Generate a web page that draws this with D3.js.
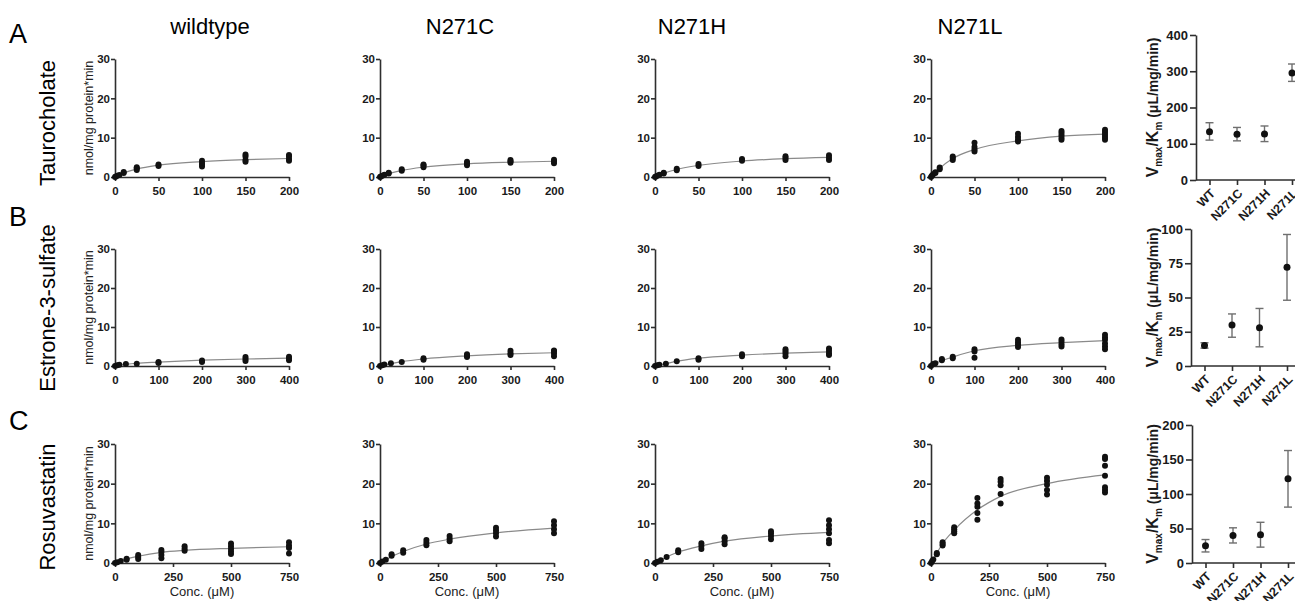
<!DOCTYPE html>
<html>
<head>
<meta charset="utf-8">
<script src="https://cdn.jsdelivr.net/npm/d3@7"></script>
<style>
  body { margin: 0; background: #fff; }
  text { font-family: Arial, 'Liberation Sans', Helvetica, sans-serif; }
</style>
</head>
<body>
<svg id="fig"></svg>
<script>
// --------------------------------------------------------------
// Data

const mutants = ['wildtype', 'N271C', 'N271H', 'N271L']
const substrates = ['Taurocholate', 'Estrone-3-sulfate', 'Rosuvastatin']
const panelLetters = ['A', 'B', 'C']
const concMax = [200, 400, 750]
const concTicks = [
  [0, 50, 100, 150, 200],
  [0, 100, 200, 300, 400],
  [0, 250, 500, 750],
]
const uptakeTicks = [0, 10, 20, 30]

// Taurocholate replicates [conc, uptake]
const tcWildtype = [[0,0],[1,0.1],[2.5,0.3],[5,0.5],[10,1.0],[10,1.3],[25,1.8],[25,2.2],[25,2.5],[50,2.8],[50,3.2],[100,2.7],[100,3.2],[100,3.6],[100,4.1],[150,3.9],[150,4.3],[150,5.2],[150,5.7],[200,4.1],[200,4.6],[200,5.2],[200,5.6]]
const tcN271C = [[0,0],[1,0.1],[2.5,0.3],[5,0.6],[10,0.9],[10,1.1],[25,1.6],[25,2.0],[50,2.5],[50,2.9],[50,3.2],[100,3.0],[100,3.5],[100,3.9],[150,3.6],[150,4.0],[150,4.3],[200,3.5],[200,4.0],[200,4.4]]
const tcN271H = [[0,0],[1,0.1],[2.5,0.3],[5,0.6],[10,0.9],[10,1.1],[25,1.7],[25,2.1],[50,2.8],[50,3.3],[100,4.1],[100,4.6],[150,4.3],[150,4.8],[150,5.3],[200,4.3],[200,4.9],[200,5.5]]
const tcN271L = [[0,0],[1,0.3],[2.5,0.7],[5,1.0],[5,1.2],[10,2.0],[10,2.4],[25,4.3],[25,4.8],[25,5.2],[50,6.5],[50,7.0],[50,7.6],[50,8.7],[100,9.0],[100,9.5],[100,10.2],[100,11.0],[150,9.5],[150,10.0],[150,10.6],[150,11.2],[150,11.7],[200,9.5],[200,10.0],[200,10.5],[200,11.0],[200,11.5],[200,12.0]]

// Estrone-3-sulfate replicates
const esWildtype = [[0,0],[5,0.2],[10,0.3],[25,0.5],[50,0.6],[100,0.8],[100,1.0],[200,1.0],[200,1.4],[300,1.3],[300,1.8],[300,2.3],[400,1.5],[400,2.0],[400,2.4]]
const esN271C = [[0,0],[5,0.2],[10,0.4],[25,0.7],[50,1.0],[100,1.6],[100,2.0],[200,2.3],[200,2.7],[200,3.0],[300,2.8],[300,3.3],[300,3.9],[400,2.5],[400,3.2],[400,3.8],[400,4.0]]
const esN271H = [[0,0],[5,0.2],[10,0.3],[25,0.6],[50,1.2],[100,1.6],[100,2.0],[200,2.5],[200,3.0],[300,2.5],[300,3.2],[300,3.8],[300,4.3],[400,2.8],[400,3.3],[400,3.9],[400,4.5]]
const esN271L = [[0,0],[5,0.5],[10,0.7],[25,1.5],[25,1.8],[50,2.0],[50,2.4],[100,2.1],[100,3.7],[100,4.3],[200,4.9],[200,5.5],[200,6.1],[200,6.7],[300,5.0],[300,5.6],[300,6.2],[300,6.8],[400,4.3],[400,5.0],[400,5.8],[400,6.7],[400,7.3],[400,8.0]]

// Rosuvastatin replicates
const rsWildtype = [[0,0],[10,0.2],[25,0.5],[50,0.8],[50,1.1],[100,1.0],[100,1.5],[100,2.0],[200,1.2],[200,2.0],[200,2.8],[200,3.3],[300,3.1],[300,3.6],[300,4.2],[500,2.3],[500,2.9],[500,3.5],[500,4.2],[500,4.9],[750,2.4],[750,3.8],[750,4.4],[750,5.2]]
const rsN271C = [[0,0],[10,0.4],[25,0.8],[50,1.8],[50,2.2],[100,2.6],[100,3.2],[200,4.5],[200,5.1],[200,5.8],[300,5.5],[300,6.1],[300,6.8],[500,6.7],[500,7.5],[500,8.2],[500,8.9],[750,7.5],[750,8.5],[750,9.5],[750,10.5]]
const rsN271H = [[0,0],[10,0.3],[25,0.7],[50,1.5],[100,2.7],[100,3.2],[200,3.5],[200,4.3],[200,5.0],[300,4.7],[300,5.5],[300,6.2],[300,6.5],[500,6.0],[500,6.8],[500,7.5],[500,8.0],[750,5.0],[750,5.8],[750,7.5],[750,8.5],[750,9.5],[750,10.8]]
const rsN271L = [[0,0],[5,0.5],[10,0.9],[25,2.2],[25,2.5],[50,4.4],[50,4.8],[50,5.2],[100,7.5],[100,8.0],[100,8.5],[100,9.0],[200,10.9],[200,12.6],[200,14.2],[200,15.0],[200,16.4],[300,15.0],[300,17.4],[300,19.6],[300,20.5],[300,21.2],[500,17.3],[500,18.4],[500,19.7],[500,20.7],[500,21.5],[750,17.8],[750,18.4],[750,19.1],[750,22.0],[750,24.5],[750,26.2],[750,26.8]]

// fitted curves
const tcWildtypeFit = [[0,0],[10,1.0],[25,2.0],[50,3.0],[100,3.9],[150,4.4],[200,4.7]]
const tcN271CFit = [[0,0],[10,0.85],[25,1.65],[50,2.5],[100,3.35],[150,3.75],[200,4.0]]
const tcN271HFit = [[0,0],[10,0.93],[25,1.9],[50,2.95],[100,4.05],[150,4.65],[200,5.0]]
const tcN271LFit = [[0,0],[5,1.1],[10,2.2],[25,4.7],[50,7.0],[100,9.2],[150,10.4],[200,10.9]]
const esWildtypeFit = [[0,0],[25,0.4],[50,0.7],[100,1.0],[200,1.5],[300,1.8],[400,2.0]]
const esN271CFit = [[0,0],[25,0.6],[50,1.1],[100,1.8],[200,2.6],[300,3.1],[400,3.4]]
const esN271HFit = [[0,0],[25,0.6],[50,1.2],[100,2.0],[200,2.8],[300,3.3],[400,3.6]]
const esN271LFit = [[0,0],[10,0.6],[25,1.4],[50,2.3],[100,3.9],[200,5.3],[300,6.0],[400,6.5]]
const rsWildtypeFit = [[0,0],[25,0.5],[50,1.0],[100,1.7],[200,2.7],[300,3.2],[500,3.7],[750,4.1]]
const rsN271CFit = [[0,0],[25,0.8],[50,1.6],[100,2.9],[200,4.8],[300,6.0],[500,7.6],[750,8.8]]
const rsN271HFit = [[0,0],[25,0.7],[50,1.5],[100,2.7],[200,4.3],[300,5.5],[500,6.8],[750,7.7]]
const rsN271LFit = [[0,0],[25,2.5],[50,4.9],[100,8.3],[200,13.4],[300,16.8],[500,20.0],[750,22.2]]

const replicates = [
  [tcWildtype, tcN271C, tcN271H, tcN271L],
  [esWildtype, esN271C, esN271H, esN271L],
  [rsWildtype, rsN271C, rsN271H, rsN271L],
]
const fits = [
  [tcWildtypeFit, tcN271CFit, tcN271HFit, tcN271LFit],
  [esWildtypeFit, esN271CFit, esN271HFit, esN271LFit],
  [rsWildtypeFit, rsN271CFit, rsN271HFit, rsN271LFit],
]

// Vmax/Km summary (mean, lower, upper)
const effCategories = ['WT', 'N271C', 'N271H', 'N271L']
const tcEff = [133, 126, 127, 295]
const tcEffLow = [110, 108, 106, 272]
const tcEffHigh = [158, 145, 149, 320]
const esEff = [15, 30, 28, 72]
const esEffLow = [13, 21, 14, 48]
const esEffHigh = [17, 38, 42, 96]
const rsEff = [25, 40, 41, 122]
const rsEffLow = [16, 29, 23, 81]
const rsEffHigh = [34, 51, 59, 163]
const effMax = [400, 100, 200]
const effTicks = [
  [0, 100, 200, 300, 400],
  [0, 25, 50, 75, 100],
  [0, 50, 100, 150, 200],
]

// --------------------------------------------------------------
// Layout

const width = 1295
const height = 601
const colX = [115, 380, 655, 931]
const plotW = 174
const rowTop = [59, 249, 444]
const rowBottom = [177, 366, 563]
const titleX = [210, 460, 692, 970]
const letterBase = [43, 226, 430]
const substrateY = [123, 308, 507]
const effAxisX = [1196, 1191, 1192]
const effTop = [35, 229, 425]
const effBottom = [180, 366, 563]

const axisColor = '#2e2e2e'

const svg = d3.select('#fig').attr('width', width).attr('height', height)

function styleAxis(g, size) {
  g.attr('font-family', "Arial, 'Liberation Sans', sans-serif")
    .attr('font-size', size)
    .attr('font-weight', 'bold')
  g.selectAll('path, line').attr('stroke', axisColor).attr('stroke-width', 1.6)
  g.selectAll('text').attr('fill', '#1a1a1a')
}

// column titles
svg
  .append('g')
  .selectAll('text')
  .data(mutants)
  .join('text')
  .attr('x', (d, i) => titleX[i])
  .attr('y', 34)
  .attr('text-anchor', 'middle')
  .attr('font-size', 22)
  .text((d) => d)

// --------------------------------------------------------------
// Kinetic panels

const fitLine = d3.line().curve(d3.curveMonotoneX)

substrates.forEach((sub, r) => {
  // panel letter + substrate name
  svg
    .append('text')
    .attr('x', 9)
    .attr('y', letterBase[r])
    .attr('font-size', 27)
    .text(panelLetters[r])

  svg
    .append('text')
    .attr('transform', `translate(55,${substrateY[r]}) rotate(-90)`)
    .attr('text-anchor', 'middle')
    .attr('font-size', 22)
    .text(sub)

  const y = d3.scaleLinear().domain([0, 30]).range([rowBottom[r], rowTop[r]])

  mutants.forEach((m, c) => {
    const x = d3
      .scaleLinear()
      .domain([0, concMax[r]])
      .range([colX[c], colX[c] + plotW])

    svg
      .append('g')
      .attr('transform', `translate(0,${rowBottom[r]})`)
      .call(d3.axisBottom(x).tickValues(concTicks[r]).tickSize(4).tickSizeOuter(0).tickPadding(6))
      .call((g) => styleAxis(g, 11.5))

    svg
      .append('g')
      .attr('transform', `translate(${colX[c]},0)`)
      .call(d3.axisLeft(y).tickValues(uptakeTicks).tickSize(4).tickSizeOuter(0).tickPadding(1))
      .call((g) => styleAxis(g, 11.5))

    const lineProj = fitLine.x((d) => x(d[0])).y((d) => y(d[1]))
    svg
      .append('path')
      .attr('d', lineProj(fits[r][c]))
      .attr('fill', 'none')
      .attr('stroke', '#8a8a8a')
      .attr('stroke-width', 1.2)

    svg
      .append('g')
      .selectAll('circle')
      .data(replicates[r][c])
      .join('circle')
      .attr('cx', (d) => x(d[0]))
      .attr('cy', (d) => y(d[1]))
      .attr('r', 3)
      .attr('fill', '#111')

    if (c === 0) {
      svg
        .append('text')
        .attr('transform', `translate(93,${(rowTop[r] + rowBottom[r]) / 2}) rotate(-90)`)
        .attr('text-anchor', 'middle')
        .attr('font-size', 12.5)
        .attr('fill', '#222')
        .text('nmol/mg protein*min')
    }
    if (r === 2) {
      svg
        .append('text')
        .attr('x', colX[c] + plotW / 2)
        .attr('y', 596)
        .attr('text-anchor', 'middle')
        .attr('font-size', 13)
        .attr('fill', '#222')
        .text('Conc. (μM)')
    }
  })
})

// --------------------------------------------------------------
// Vmax/Km panels

const effMeans = [tcEff, esEff, rsEff]
const effLows = [tcEffLow, esEffLow, rsEffLow]
const effHighs = [tcEffHigh, esEffHigh, rsEffHigh]

effMeans.forEach((means, r) => {
  const ax = effAxisX[r]
  const x = d3
    .scalePoint()
    .domain(effCategories)
    .range([ax + 13.5, ax + 13.5 + 3 * 27.5])
  const y = d3.scaleLinear().domain([0, effMax[r]]).range([effBottom[r], effTop[r]])

  svg
    .append('g')
    .attr('transform', `translate(0,${effBottom[r]})`)
    .call(d3.axisBottom(x).tickSize(5).tickSizeOuter(0))
    .call((g) => g.select('.domain').attr('d', `M${ax},0H${width + 10}`))
    .call((g) => styleAxis(g, 12.5))
    .call((g) =>
      g
        .selectAll('.tick text')
        .attr('x', 0)
        .attr('y', 0)
        .attr('dy', 0)
        .attr('text-anchor', 'end')
        .attr('transform', 'translate(6,14) rotate(-45)')
    )

  svg
    .append('g')
    .attr('transform', `translate(${ax},0)`)
    .call(d3.axisLeft(y).tickValues(effTicks[r]).tickSize(6).tickSizeOuter(0).tickPadding(2))
    .call((g) => styleAxis(g, 13))

  const rows = effCategories.map((k, i) => ({
    k: k,
    v: means[i],
    lo: effLows[r][i],
    hi: effHighs[r][i],
  }))

  const bars = svg.append('g').attr('stroke', '#6f6f6f').attr('stroke-width', 1.4)
  bars
    .selectAll('.stem')
    .data(rows)
    .join('line')
    .attr('x1', (d) => x(d.k))
    .attr('x2', (d) => x(d.k))
    .attr('y1', (d) => y(d.lo))
    .attr('y2', (d) => y(d.hi))
  bars
    .selectAll('.capHi')
    .data(rows)
    .join('line')
    .attr('x1', (d) => x(d.k) - 4)
    .attr('x2', (d) => x(d.k) + 4)
    .attr('y1', (d) => y(d.hi))
    .attr('y2', (d) => y(d.hi))
  bars
    .selectAll('.capLo')
    .data(rows)
    .join('line')
    .attr('x1', (d) => x(d.k) - 4)
    .attr('x2', (d) => x(d.k) + 4)
    .attr('y1', (d) => y(d.lo))
    .attr('y2', (d) => y(d.lo))

  svg
    .append('g')
    .selectAll('circle')
    .data(rows)
    .join('circle')
    .attr('cx', (d) => x(d.k))
    .attr('cy', (d) => y(d.v))
    .attr('r', 3.5)
    .attr('fill', '#111')

  // y label with subscripts
  const lab = svg
    .append('text')
    .attr('transform', `translate(1158,${(effTop[r] + effBottom[r]) / 2}) rotate(-90)`)
    .attr('text-anchor', 'middle')
    .attr('font-size', 14)
    .attr('font-weight', 'bold')
    .attr('fill', '#1a1a1a')
  lab.append('tspan').attr('font-size', 16).text('V')
  lab.append('tspan').attr('font-size', 10).attr('dy', 4).text('max')
  lab.append('tspan').attr('font-size', 16).attr('dy', -4).text('/K')
  lab.append('tspan').attr('font-size', 10).attr('dy', 4).text('m')
  lab.append('tspan').attr('dy', -4).text(' (μL/mg/min)')
})
</script>
</body>
</html>
